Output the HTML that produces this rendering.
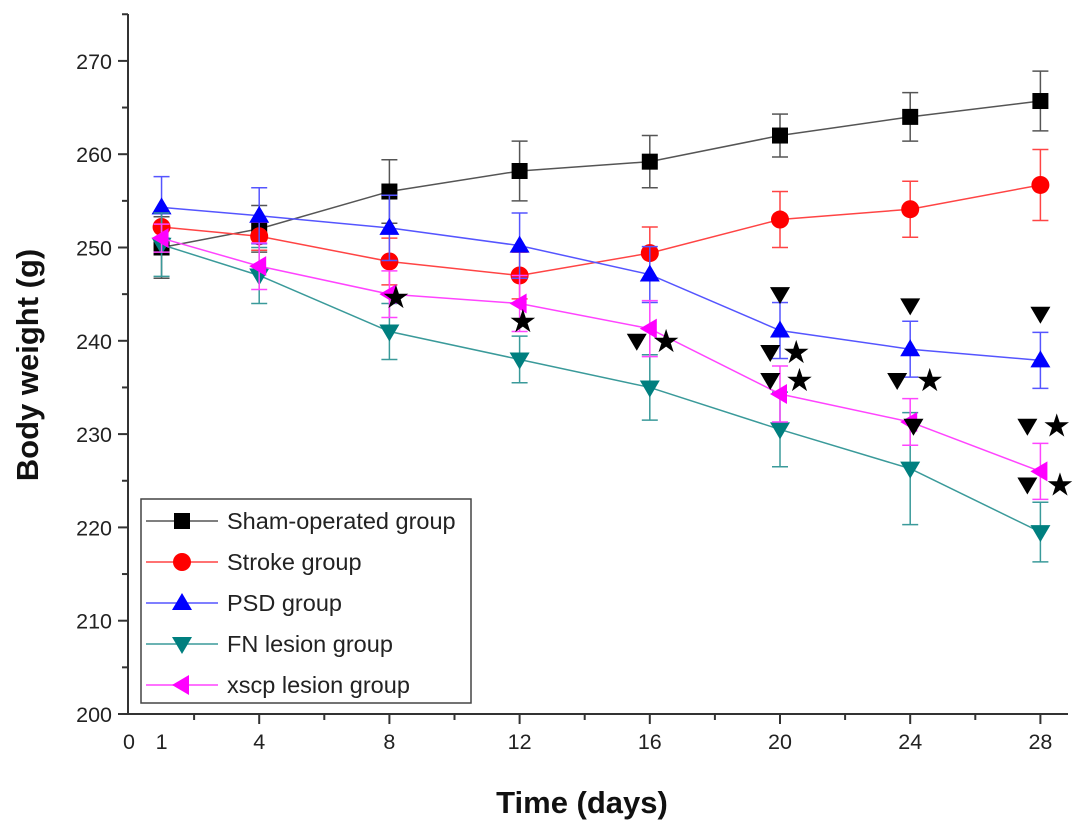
<!DOCTYPE html>
<html><head><meta charset="utf-8"><style>
body{margin:0;background:#fff}
svg{display:block;font-family:"Liberation Sans",Arial,sans-serif}
</style></head><body>
<svg id="c" width="1087" height="835" viewBox="0 0 1087 835"></svg>
<script>
const days=[1,4,8,12,16,20,24,28];
const shamV=[250,252,256,258.2,259.2,262,264,265.7];
const shamE=[3.3,2.5,3.4,3.2,2.8,2.3,2.6,3.2];
const strokeV=[252.2,251.2,248.5,247,249.4,253,254.1,256.7];
const strokeE=[1.5,1.5,2.5,2.5,2.8,3,3,3.8];
const psdV=[254.3,253.4,252.1,250.2,247.1,241.1,239.1,237.9];
const psdE=[3.3,3,3.5,3.5,3,3,3,3];
const fnV=[250.3,247,241,238,235,230.5,226.3,219.5];
const fnE=[3.4,3,3,2.5,3.5,4,6,3.2];
const xscpV=[251,248,245,244,241.3,234.3,231.3,226];
const xscpE=[1.5,2.5,2.5,3,3,3,2.5,3];
const yTicks=[200,210,220,230,240,250,260,270];
const xLabels=["0","1","4","8","12","16","20","24","28"];
const xLabelDays=[0,1,4,8,12,16,20,24,28];
const sigTri=[[20,245],[24,243.8],[28,242.9],[19.7,238.8],[19.7,235.8],[15.6,240],[23.6,235.8],[24.1,230.9],[27.6,230.9],[27.6,224.6]];
const sigStar=[[8.2,244.7],[12.1,242.1],[16.5,240],[20.5,238.8],[20.6,235.8],[24.6,235.8],[28.5,230.9],[28.6,224.6]];

const NS="http://www.w3.org/2000/svg";
const svg=document.getElementById('c');
const X=d=>129+d*32.55;
const Y=v=>714-(v-200)*9.33;
function el(t,a,p){const e=document.createElementNS(NS,t);for(const k in a)e.setAttribute(k,a[k]);(p||svg).appendChild(e);return e;}

const ax=el('g',{});


el('line',{x1:128,y1:14,x2:128,y2:715,stroke:'#333','stroke-width':2},ax);
el('line',{x1:127,y1:714,x2:1068,y2:714,stroke:'#333','stroke-width':2},ax);
for(let v=200;v<=275;v+=5){const big=v%10==0;el('line',{x1:big?118:122,y1:Y(v),x2:128,y2:Y(v),stroke:'#333','stroke-width':2},ax);}
yTicks.forEach(v=>{const t=el('text',{x:112,y:Y(v)+8,'text-anchor':'end','font-size':21.5,fill:'#222'},ax);t.textContent=v;

});
for(let d=2;d<=28;d+=2){const big=d%4==0;el('line',{x1:X(d),y1:714,x2:X(d),y2:big?724:720,stroke:'#333','stroke-width':2},ax);}
xLabelDays.forEach((d,i)=>{const t=el('text',{x:X(d),y:749,'text-anchor':'middle','font-size':21.5,fill:'#222'},ax);t.textContent=xLabels[i];

});
const yt=el('text',{x:0,y:0,transform:'translate(38,365) rotate(-90)','text-anchor':'middle','font-size':31,'font-weight':'bold',fill:'#111'});
yt.textContent='Body weight (g)';


const xt=el('text',{x:582,y:813,'text-anchor':'middle','font-size':31,'font-weight':'bold',fill:'#111'});
xt.textContent='Time (days)';



function marker(g,kind,x,y,col){
  const s=9;
  if(kind=='sq')return el('rect',{x:x-s+1,y:y-s+1,width:2*s-2,height:2*s-2,fill:col},g);
  if(kind=='ci')return el('circle',{cx:x,cy:y,r:s,fill:col},g);
  if(kind=='up')return el('polygon',{points:`${x},${y-s-1} ${x-s-1},${y+s-2} ${x+s+1},${y+s-2}`,fill:col},g);
  if(kind=='dn')return el('polygon',{points:`${x},${y+s+1} ${x-s-1},${y-s+2} ${x+s+1},${y-s+2}`,fill:col},g);
  if(kind=='lf')return el('polygon',{points:`${x-s-1},${y} ${x+s-2},${y-s-1} ${x+s-2},${y+s+1}`,fill:col},g);
}
const series=[
 {name:'sham',label:'Sham-operated group',v:shamV,e:shamE,c:'#000',lc:'#555',m:'sq'},
 {name:'stroke',label:'Stroke group',v:strokeV,e:strokeE,c:'#f00',lc:'#f44',m:'ci'},
 {name:'psd',label:'PSD group',v:psdV,e:psdE,c:'#00f',lc:'#55f',m:'up'},
 {name:'fn',label:'FN lesion group',v:fnV,e:fnE,c:'#007f7f',lc:'#3a9a9a',m:'dn'},
 {name:'xscp',label:'xscp lesion group',v:xscpV,e:xscpE,c:'#f0f',lc:'#f4f',m:'lf'}
];
series.forEach(s=>{
  const g=el('g',{});
  
  
  days.forEach((d,i)=>{const x=X(d),y1=Y(s.v[i]-s.e[i]),y2=Y(s.v[i]+s.e[i]);
    el('line',{x1:x,y1:y1,x2:x,y2:y2,stroke:s.lc,'stroke-width':1.5},g);
    el('line',{x1:x-8,y1:y1,x2:x+8,y2:y1,stroke:s.lc,'stroke-width':1.5},g);
    el('line',{x1:x-8,y1:y2,x2:x+8,y2:y2,stroke:s.lc,'stroke-width':1.5},g);});
  el('polyline',{points:days.map((d,i)=>X(d)+','+Y(s.v[i])).join(' '),fill:'none',stroke:s.lc,'stroke-width':1.5},g);
  days.forEach((d,i)=>{const m=marker(g,s.m,X(d),Y(s.v[i]),s.c);
    
    });
});
const sg=el('g',{});


sigTri.forEach(p=>{marker(sg,'dn',X(p[0]),Y(p[1]),'#000');});
sigStar.forEach(p=>{const t=el('text',{x:X(p[0]),y:Y(p[1])+11,'text-anchor':'middle','font-size':32,fill:'#000'},sg);t.textContent='★';});

const lg=el('g',{});


el('rect',{x:141,y:499,width:330,height:204,fill:'#fff',stroke:'#444','stroke-width':1.5},lg);
series.forEach((s,i)=>{const y=521+i*41;
  const e=el('g',{},lg);
  
  
  el('line',{x1:146,y1:y,x2:218,y2:y,stroke:s.lc,'stroke-width':1.5},e);
  marker(e,s.m,182,y,s.c);
  const t=el('text',{x:227,y:y+8,'font-size':23.5,fill:'#222'},e);t.textContent=s.label;});
</script>
</body></html>
